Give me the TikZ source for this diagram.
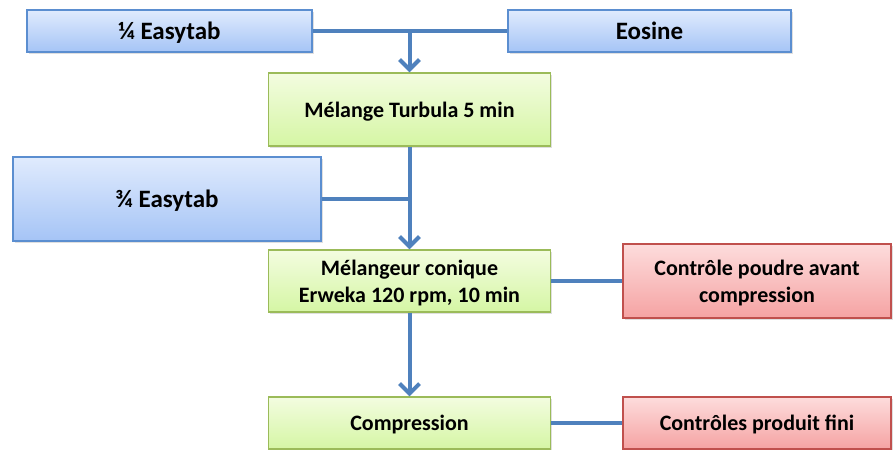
\documentclass[tikz,border=0pt]{standalone}
\usepackage{fontspec}
\setmainfont{Carlito}
\usetikzlibrary{arrows.meta,shadows}
\definecolor{lnblue}{HTML}{4F81BD}
\definecolor{bluetop}{HTML}{E0EBFD}
\definecolor{bluebot}{HTML}{A5C4F6}
\definecolor{blueline}{HTML}{5B8ED0}
\definecolor{greentop}{HTML}{F3FCE0}
\definecolor{greenbot}{HTML}{D5F6A4}
\definecolor{greenline}{HTML}{9BBB59}
\definecolor{redtop}{HTML}{FDDCDC}
\definecolor{redbot}{HTML}{F5A3A3}
\definecolor{redline}{HTML}{C0504D}
\tikzset{
  x=1pt,y=1pt,
  box/.style={rectangle, line width=1.2pt, align=center, inner sep=0pt,
    text depth=0pt,
    font=\bfseries\fontsize{22}{27}\selectfont,
    drop shadow={opacity=0.25, shadow xshift=1.5pt, shadow yshift=-2pt}},
  bluebox/.style={box, draw=blueline, top color=bluetop, bottom color=bluebot,
    font=\bfseries\fontsize{25}{30}\selectfont},
  greenbox/.style={box, draw=greenline, top color=greentop, bottom color=greenbot},
  redbox/.style={box, draw=redline, top color=redtop, bottom color=redbot},
  conn/.style={draw=lnblue, line width=4pt},
  arr/.style={conn, -{Straight Barb[length=10pt,width=20pt,line width=4pt]}}
}
\begin{document}
\begin{tikzpicture}
\useasboundingbox (0,0) rectangle (895,-450);
\node[bluebox, minimum width=285, minimum height=42] (q1) at (169.5,-31) {¼ Easytab};
\node[bluebox, minimum width=283, minimum height=42] (eos) at (649.5,-31) {Eosine};
\node[greenbox, minimum width=282, minimum height=73] (tur) at (409.5,-109.5) {Mélange Turbula 5 min};
\node[bluebox, minimum width=308, minimum height=84] (q3) at (167,-199) {¾ Easytab};
\node[greenbox, minimum width=282, minimum height=62] (mel) at (409.5,-281) {Mélangeur conique\\Erweka 120 rpm, 10 min};
\node[redbox, minimum width=268, minimum height=74] (cpc) at (757,-281) {Contrôle poudre avant\\compression};
\node[greenbox, minimum width=282, minimum height=52] (comp) at (409.5,-423) {Compression};
\node[redbox, minimum width=268, minimum height=52] (cpf) at (757,-423) {Contrôles produit fini};
\coordinate (j1) at (tur.north |- q1.east);
\coordinate (j2) at (tur.south |- q3.east);
\draw[conn] (q1.east) -- (eos.west);
\draw[arr] (j1) -- (tur.north);
\draw[conn] (q3.east) -- (j2);
\draw[arr] (tur.south) -- (mel.north);
\draw[arr] (mel.south) -- (comp.north);
\draw[conn] (mel.east) -- (cpc.west);
\draw[conn] (comp.east) -- (cpf.west);
\end{tikzpicture}
\end{document}
